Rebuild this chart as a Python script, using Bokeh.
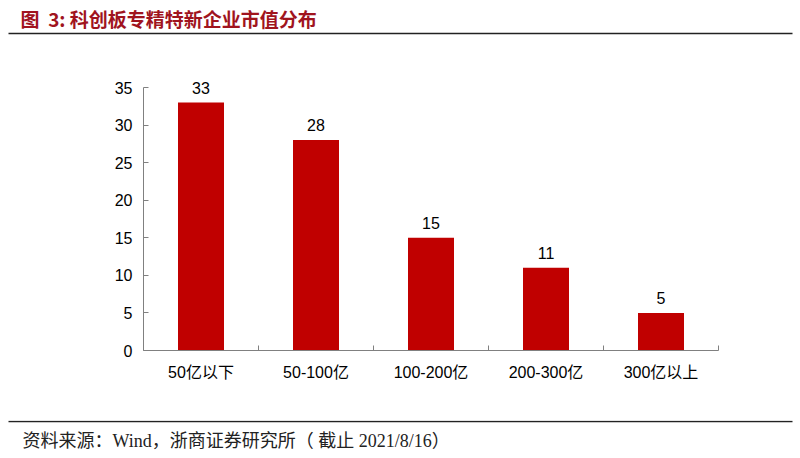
from bokeh.plotting import figure
from bokeh.layouts import column
from bokeh.models import Range1d, FixedTicker, ColumnDataSource
from bokeh.core.properties import value
from bokeh.embed import file_html
from bokeh.resources import INLINE

categories = ["50亿以下", "50-100亿", "100-200亿", "200-300亿", "300亿以上"]
counts = [33, 28, 15, 11, 5]
y_ticks = [0, 5, 10, 15, 20, 25, 30, 35]

title_text = "图\u00a0\u00a03:\u00a0科创板专精特新企业市值分布"
source_text = "资料来源：Wind，浙商证券研究所（\u00a0截止\u00a02021/8/16）"

W = 800
SANS = "Liberation Sans, Noto Sans CJK SC"

def blank(h):
    f = figure(width=W, height=h, x_range=Range1d(0, W), y_range=Range1d(h, 0),
               output_backend="svg", toolbar_location=None,
               min_border=0, min_border_left=0, min_border_right=0,
               min_border_top=0, min_border_bottom=0)
    f.frame_align = False
    f.axis.visible = False
    f.grid.visible = False
    f.outline_line_color = None
    return f

# header
hdr = blank(36)
hdr.text(x=[20], y=[18], text=[title_text], text_font=value("Noto Sans CJK SC"),
         text_font_size="19px", text_font_style="bold", text_color="#a0141e",
         text_baseline="middle", text_align="left")
hdr.segment(x0=[8], y0=[33], x1=[792], y1=[33], line_color="#222222", line_width=1.6)

# chart
CH = 384
p = figure(width=W, height=CH, output_backend="svg", toolbar_location=None,
           x_range=Range1d(0, len(categories)), y_range=Range1d(0, 37),
           min_border_left=143, min_border_right=82, min_border_top=36, min_border_bottom=70)
p.frame_align = False
p.outline_line_color = None
p.grid.visible = False

xs = [i + 0.5 for i in range(len(categories))]
src = ColumnDataSource(dict(x=xs, top=counts, lab=[str(c) for c in counts]))
p.vbar(x="x", top="top", bottom=0, width=0.4, source=src, fill_color="#c00000", line_color=None)
p.text(x="x", y="top", text="lab", source=src, y_offset=-9, text_align="center",
       text_baseline="bottom", text_font=value("Liberation Sans"), text_font_size="16px",
       text_color="#000000")

p.xaxis.ticker = FixedTicker(ticks=xs, minor_ticks=list(range(len(categories) + 1)))
p.xaxis.major_label_overrides = {x: c for x, c in zip(xs, categories)}
p.xaxis.major_tick_in = 0
p.xaxis.major_tick_out = 0
p.xaxis.minor_tick_in = 5
p.xaxis.minor_tick_out = 0
p.xaxis.major_label_standoff = 13
p.xaxis.major_label_text_font = SANS
p.xaxis.major_label_text_font_size = "16px"
p.xaxis.major_label_text_color = "#000000"

p.yaxis.ticker = FixedTicker(ticks=y_ticks)
p.yaxis.bounds = (0, 35)
p.yaxis.major_tick_in = 5
p.yaxis.major_tick_out = 0
p.yaxis.major_label_standoff = 11
p.yaxis.major_label_text_font = SANS
p.yaxis.major_label_text_font_size = "16px"
p.yaxis.major_label_text_color = "#000000"

for ax in (p.xaxis, p.yaxis):
    ax.axis_line_color = "#808080"
    ax.major_tick_line_color = "#808080"

p.xaxis.minor_tick_line_color = "#808080"
p.yaxis.minor_tick_line_color = None

# footer
ftr = blank(38)
ftr.segment(x0=[8], y0=[1], x1=[792], y1=[1], line_color="#222222", line_width=1.6)
ftr.text(x=[22], y=[20], text=[source_text], text_font=value("Liberation Serif, Noto Sans CJK SC"),
         text_font_size="18px", text_color="#222222", text_baseline="middle", text_align="left")

layout = column(hdr, p, ftr, spacing=0)
open("out.html", "w").write(file_html(layout, INLINE))
